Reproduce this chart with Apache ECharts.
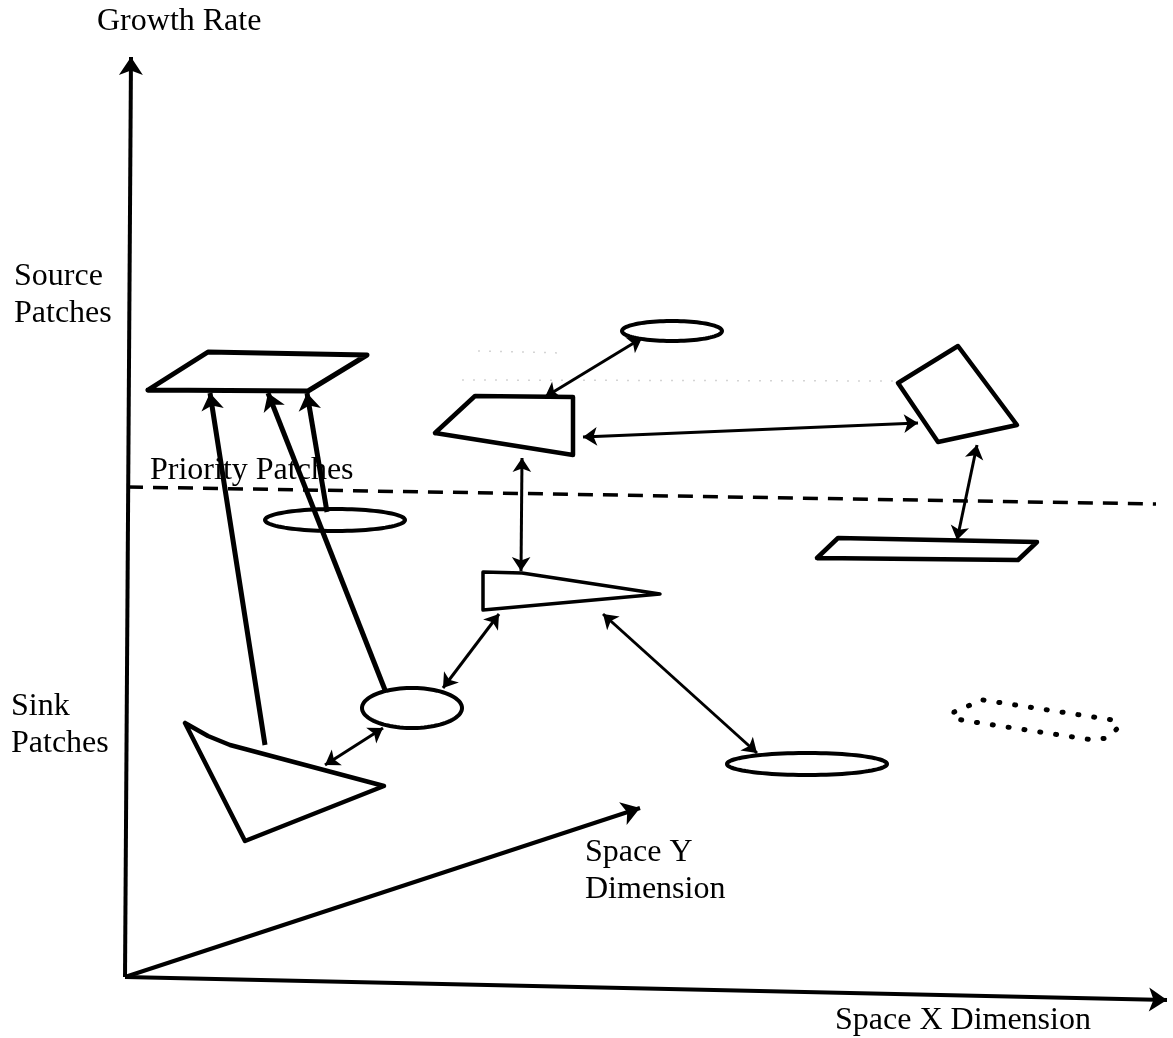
<!DOCTYPE html>
<html>
<head>
<meta charset="utf-8">
<script src="https://cdn.jsdelivr.net/npm/echarts@6/dist/echarts.min.js"></script>
<style>
  html, body { margin: 0; padding: 0; background: #fff; }
  #patches { width: 1173px; height: 1038px; }
</style>
</head>
<body>
<div id="patches"></div>
<script>
// page space: x to the right, y downwards (yAxis is inverted)
const axisArrows = [
  [[125, 977], [131, 57]],    // growth rate
  [[125, 977], [1167, 1000]], // space X
  [[125, 977], [640, 808]]    // space Y
]
const priorityLine = [[128, 487], [1156, 504]]

const sourceParallelogram = [[148, 390], [208, 352], [367, 355], [308, 391]]
const middleTrapezoid = [[435, 433], [475, 396], [573, 397], [573, 455]]
const tiltedSquare = [[898, 383], [958, 346], [1017, 425], [938, 442]]
const flatParallelogram = [[817, 558], [838, 538], [1037, 542], [1018, 560]]
const wedge = [[483, 572], [522, 573], [660, 594], [483, 610]]
const sinkTriangle = [[185, 723], [208, 736], [230, 745], [384, 786], [245, 841]]
const dottedPatch = [[983, 700], [1113, 720], [1119, 727], [1107, 738], [1093, 740], [967, 721], [952, 718], [954, 712], [968, 706]]

// faint scanner specks near the top patches
const specks = [
  [[478, 351], [562, 353]],
  [[462, 380], [900, 381]]
]

// [cx, cy, width, height]
const ellipses = [
  [335, 520, 140, 22],
  [412, 708, 100, 40],
  [672, 331, 100, 20],
  [807, 764, 160, 22]
]

const singleArrows = [
  [[265, 745], [210, 393]],
  [[385, 690], [268, 393]],
  [[327, 512], [307, 393]]
]
const doubleArrows = [
  [[325, 765], [383, 728]],
  [[443, 688], [499, 614]],
  [[522, 458], [521, 571]],
  [[545, 397], [642, 338]],
  [[583, 437], [918, 423]],
  [[977, 445], [957, 540]],
  [[603, 614], [757, 753]]
]

// [x, y, text]
const labels = [
  [97, 22, 'Growth Rate'],
  [14, 295, 'Source\nPatches'],
  [11, 725, 'Sink\nPatches'],
  [150, 471, 'Priority Patches'],
  [585, 871, 'Space Y\nDimension'],
  [835, 1021, 'Space X Dimension']
]

function outline (name, pts, extra) {
  return {
    type: 'line',
    name: name,
    data: pts.concat([pts[0]]),
    symbol: 'none',
    silent: true,
    z: 3,
    lineStyle: Object.assign({ color: '#000', width: 4.5, join: 'round', cap: 'round' }, extra || {})
  }
}

function renderEllipse (params, api) {
  const c = api.coord([api.value(0), api.value(1)])
  const s = api.size([api.value(2), api.value(3)])
  const rx = Math.abs(s[0]) / 2
  const ry = Math.abs(s[1]) / 2
  const pts = []
  for (let i = 0; i < 90; i++) {
    const t = i / 90 * Math.PI * 2
    pts.push([c[0] + rx * Math.cos(t), c[1] + ry * Math.sin(t)])
  }
  return {
    type: 'polygon',
    shape: { points: pts },
    style: { fill: 'none', stroke: '#000', lineWidth: 4 }
  }
}

const chart = echarts.init(document.getElementById('patches'))
const option = {
  animation: false,
  backgroundColor: '#fff',
  grid: { left: 0, right: 0, top: 0, bottom: 0 },
  xAxis: { type: 'value', min: 0, max: 1173, show: false },
  yAxis: { type: 'value', min: 0, max: 1038, inverse: true, show: false },
  series: [
    {
      type: 'lines',
      coordinateSystem: 'cartesian2d',
      data: specks.map(a => ({ coords: a })),
      symbol: 'none',
      silent: true,
      lineStyle: { color: '#d4d4d4', width: 1.5, opacity: 1, type: [2, 9] },
      z: 1
    },
    {
      type: 'lines',
      coordinateSystem: 'cartesian2d',
      data: axisArrows.map(a => ({ coords: a })),
      symbol: ['none', 'arrow'],
      symbolSize: 18,
      lineStyle: { color: '#000', width: 4, opacity: 1 },
      z: 2
    },
    {
      type: 'line',
      data: priorityLine,
      symbol: 'none',
      silent: true,
      lineStyle: { color: '#000', width: 3.5, type: [15, 10] },
      z: 2
    },
    outline('source', sourceParallelogram, { width: 5 }),
    outline('middle', middleTrapezoid),
    outline('tilted', tiltedSquare),
    outline('flat', flatParallelogram),
    outline('wedge', wedge, { width: 3.5 }),
    outline('sink', sinkTriangle),
    outline('dotted', dottedPatch, { width: 5, type: [1, 15] }),
    {
      type: 'custom',
      data: ellipses,
      encode: { x: 0, y: 1 },
      renderItem: renderEllipse,
      silent: true,
      z: 3
    },
    {
      type: 'lines',
      coordinateSystem: 'cartesian2d',
      data: singleArrows.map(a => ({ coords: a })),
      symbol: ['none', 'arrow'],
      symbolSize: 17,
      lineStyle: { color: '#000', width: 5, opacity: 1 },
      z: 4
    },
    {
      type: 'lines',
      coordinateSystem: 'cartesian2d',
      data: doubleArrows.map(a => ({ coords: a })),
      symbol: ['arrow', 'arrow'],
      symbolSize: 14,
      lineStyle: { color: '#000', width: 3, opacity: 1 },
      z: 4
    },
    {
      type: 'scatter',
      data: labels.map(l => ({ value: [l[0], l[1]], label: { formatter: l[2] } })),
      symbolSize: 0,
      silent: true,
      itemStyle: { opacity: 1 },
      label: {
        show: true,
        position: 'right',
        distance: 0,
        color: '#000',
        fontFamily: 'Liberation Serif',
        fontSize: 32,
        lineHeight: 37
      },
      z: 5
    }
  ]
}
chart.setOption(option)
</script>
</body>
</html>
